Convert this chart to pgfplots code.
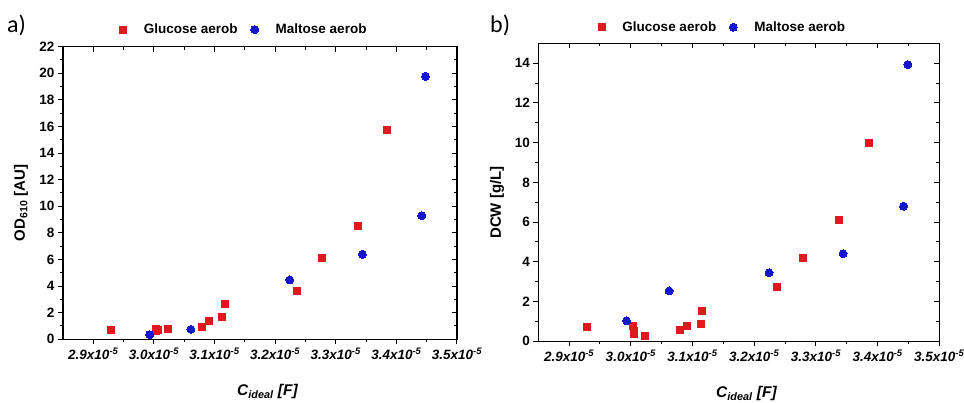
\documentclass[border=0pt]{standalone}
\usepackage{fontspec}
\setmainfont{Liberation Sans}
\newfontfamily\carlito{Carlito}
\usepackage{pgfplots}
\pgfplotsset{compat=1.18}
\definecolor{gred}{RGB}{222,26,30}
\definecolor{mblue}{RGB}{22,22,205}

\pgfplotsset{
  base/.style={
    scale only axis,
    xmin=2.85e-5, xmax=3.5e-5,
    xtick={2.9e-5,3.0e-5,3.1e-5,3.2e-5,3.3e-5,3.4e-5,3.5e-5},
    scaled ticks=false,
    minor x tick num=1, minor y tick num=1,
    axis line style={line width=1.2pt},
    major tick length=5pt, minor tick length=3pt,
    every tick/.append style={black, line width=1pt},
    /pgf/number format/assume math mode=true,
    tick label style={font=\bfseries\fontsize{13.5}{15}\selectfont},
    enlargelimits=false,
  },
  mainax/.style={
    base,
    tick align=outside, xtick pos=left, ytick pos=left,
    xticklabels={\textit{2.9x10\textsuperscript{-5}},\textit{3.0x10\textsuperscript{-5}},\textit{3.1x10\textsuperscript{-5}},\textit{3.2x10\textsuperscript{-5}},\textit{3.3x10\textsuperscript{-5}},\textit{3.4x10\textsuperscript{-5}},\textit{3.5x10\textsuperscript{-5}}},
    xlabel={\bfseries\itshape C\textsubscript{ideal} [F]},
    xlabel style={font=\fontsize{15.5}{17}\selectfont, at={(axis description cs:0.519,0)}, anchor=base, yshift=-56pt},
    ylabel style={font=\bfseries\fontsize{15}{17}\selectfont},
    legend columns=2,
    legend cell align=left,
    legend style={draw=none, fill=none, font=\bfseries\fontsize{13.5}{15}\selectfont, anchor=center,
      /tikz/every even column/.append style={column sep=11pt}},
  },
  overax/.style={
    base,
    tick align=inside, xtick pos=right, ytick pos=right,
    xticklabels={}, yticklabels={},
  },
  gmark/.style={only marks, color=gred, mark=square*, mark size=3.5pt, mark options={solid, fill=gred, draw=gred, line width=0pt}},
  mmark/.style={only marks, color=mblue, mark=*, mark size=4pt, mark options={solid, fill=mblue, draw=mblue, line width=0pt}},
}

\begin{document}
\begin{tikzpicture}
\useasboundingbox (0,0) rectangle (964pt,403pt);

% ---------- panel a ----------
\begin{axis}[mainax, at={(63pt,63.7pt)}, anchor=south west, width=394pt, height=292.6pt,
  ymin=0, ymax=22, ytick={0,2,...,22},
  ylabel={OD\textsubscript{610} [AU]},
  ylabel style={at={(axis description cs:-0.1066,0.466)}, anchor=center},
  legend style={at={(axis description cs:0.460,1.0586)}}]
\addplot[gmark] coordinates {
(2.929e-5,0.68) (3.003e-5,0.78) (3.004e-5,0.65) (3.006e-5,0.72) (3.023e-5,0.80)
(3.079e-5,0.92) (3.091e-5,1.40) (3.113e-5,1.68) (3.117e-5,2.68) (3.236e-5,3.63)
(3.277e-5,6.14) (3.337e-5,8.54) (3.385e-5,15.74)};
\addlegendentry{\hspace{15pt}Glucose aerob}
\addplot[mmark] coordinates {
(2.993e-5,0.35) (3.061e-5,0.75) (3.224e-5,4.46) (3.344e-5,6.39) (3.442e-5,9.29) (3.448e-5,19.77)};
\addlegendentry{\hspace{15pt}Maltose aerob}
\end{axis}
\begin{axis}[overax, at={(63pt,63.7pt)}, anchor=south west, width=394pt, height=292.6pt,
  ymin=0, ymax=22, ytick={0,2,...,22}]
\end{axis}

% ---------- panel b ----------
\begin{axis}[mainax, at={(538.3pt,61.7pt)}, anchor=south west, width=401pt, height=298pt,
  ymin=0, ymax=15, ytick={0,2,...,14},
  ylabel={DCW [g/L]},
  ylabel style={at={(axis description cs:-0.103,0.466)}, anchor=center},
  legend style={at={(axis description cs:0.460,1.054)}}]
\addplot[gmark] coordinates {
(2.929e-5,0.74) (3.004e-5,0.78) (3.0045e-5,0.54) (3.005e-5,0.37) (3.023e-5,0.25)
(3.080e-5,0.57) (3.091e-5,0.79) (3.114e-5,0.89) (3.116e-5,1.52) (3.237e-5,2.74)
(3.279e-5,4.21) (3.338e-5,6.12) (3.386e-5,10.00)};
\addlegendentry{\hspace{15pt}Glucose aerob}
\addplot[mmark] coordinates {
(2.993e-5,1.03) (3.062e-5,2.54) (3.224e-5,3.45) (3.344e-5,4.41) (3.442e-5,6.80) (3.449e-5,13.93)};
\addlegendentry{\hspace{15pt}Maltose aerob}
\end{axis}
\begin{axis}[overax, at={(538.3pt,61.7pt)}, anchor=south west, width=401pt, height=298pt,
  ymin=0, ymax=15, ytick={0,2,...,14}]
\end{axis}

\node[anchor=base west, font=\carlito\fontsize{24}{27}\selectfont, inner sep=0pt] at (7pt,370pt) {a)};
\node[anchor=base west, font=\carlito\fontsize{24}{27}\selectfont, inner sep=0pt] at (490pt,370pt) {b)};
\end{tikzpicture}
\end{document}
